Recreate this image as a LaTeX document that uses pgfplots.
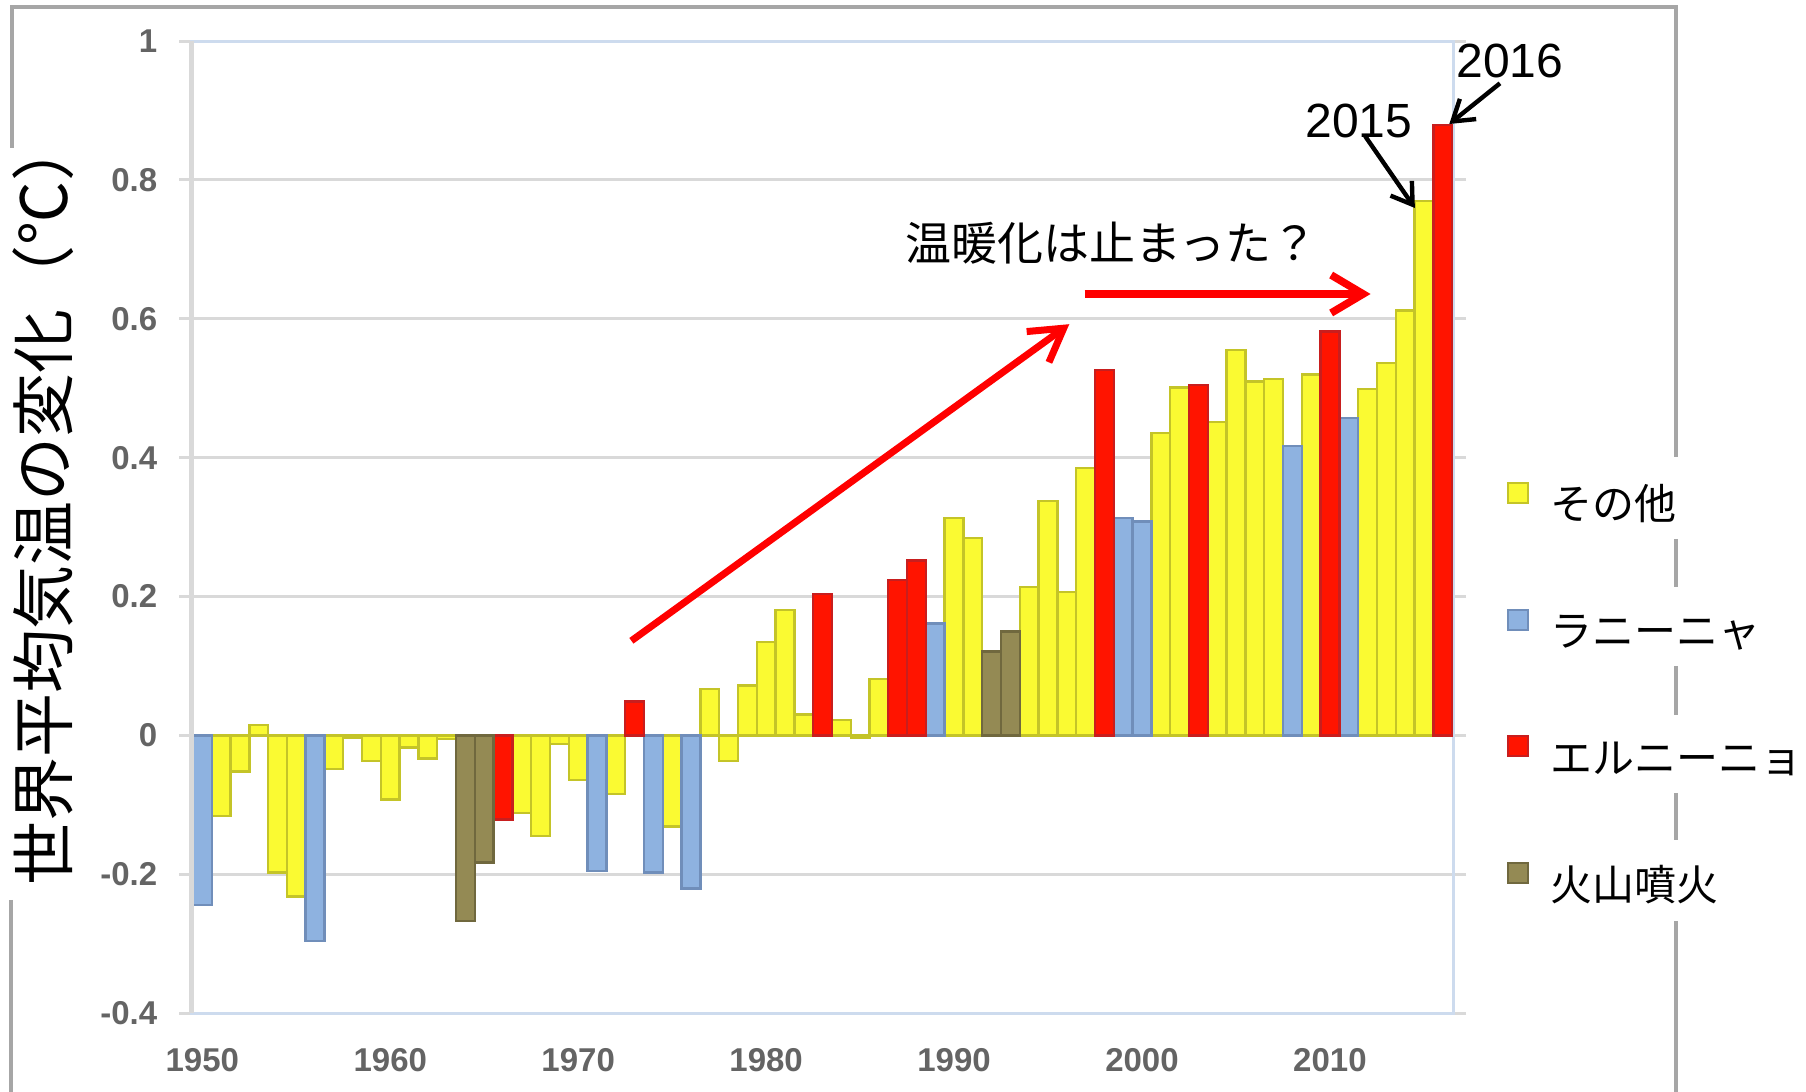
\documentclass[border=0pt]{standalone}
\usepackage{pgfplots}
\usepackage{pgfplotstable}
\pgfplotsset{compat=1.18}
\usetikzlibrary{arrows.meta}
\usepackage{fontspec}
\setmainfont{Liberation Sans}
\newfontfamily\jp{Noto Sans CJK JP}

\definecolor{cyel}{RGB}{250,250,50}
\definecolor{cyeld}{RGB}{196,196,40}
\definecolor{cblu}{RGB}{142,178,224}
\definecolor{cblud}{RGB}{112,142,186}
\definecolor{cred}{RGB}{255,20,0}
\definecolor{credd}{RGB}{200,30,30}
\definecolor{coli}{RGB}{148,138,84}
\definecolor{colid}{RGB}{112,104,62}
\definecolor{cgrid}{RGB}{217,217,217}
\definecolor{cframe}{RGB}{166,166,166}
\definecolor{cbord}{RGB}{205,219,238}
\definecolor{ctick}{RGB}{100,100,100}
\definecolor{arrred}{RGB}{255,0,0}

\pgfplotstableread{
year val
1951 -0.116
1952 -0.052
1953 0.015
1954 -0.197
1955 -0.232
1957 -0.048
1958 -0.003
1959 -0.037
1960 -0.092
1961 -0.017
1962 -0.033
1963 -0.005
1967 -0.112
1968 -0.145
1969 -0.012
1970 -0.064
1972 -0.084
1975 -0.131
1977 0.067
1978 -0.037
1979 0.072
1980 0.135
1981 0.181
1982 0.030
1984 0.022
1985 -0.003
1986 0.081
1990 0.313
1991 0.284
1994 0.214
1995 0.338
1996 0.207
1997 0.385
2001 0.436
2002 0.501
2004 0.451
2005 0.555
2006 0.510
2007 0.513
2009 0.520
2012 0.499
2013 0.536
2014 0.612
2015 0.770
}\tother

\pgfplotstableread{
year val
1950 -0.244
1956 -0.296
1971 -0.195
1974 -0.197
1976 -0.220
1989 0.161
1999 0.313
2000 0.308
2008 0.417
2011 0.457
}\tlanina

\pgfplotstableread{
year val
1966 -0.121
1973 0.049
1983 0.204
1987 0.224
1988 0.252
1998 0.526
2003 0.505
2010 0.582
2016 0.879
}\telnino

\pgfplotstableread{
year val
1964 -0.267
1965 -0.183
1992 0.121
1993 0.150
}\tvolcano

\begin{document}
\begin{tikzpicture}
\useasboundingbox (0,0) rectangle (451.5bp,-273bp);
\begin{axis}[
  at={(48bp,-253.325bp)}, anchor=south west,
  scale only axis, width=315.25bp, height=243.075bp,
  xmin=1949.45, xmax=2016.55, ymin=-0.4, ymax=1,
  ytick={-0.4,-0.2,0,0.2,0.4,0.6,0.8,1},
  xtick={1950,1960,1970,1980,1990,2000,2010},
  ymajorgrids, grid style={cgrid, line width=0.75bp},
  axis line style={cbord, line width=0.75bp},
  tick align=outside, major tick length=3.25bp,
  ytick style={cgrid, line width=0.75bp},
  xtick style={draw=none},
  /pgf/number format/assume math mode=true,
  /pgf/number format/1000 sep={},
  ticklabel style={font=\fontsize{8.25bp}{9bp}\selectfont\bfseries, text=ctick},
  yticklabel style={anchor=east, inner sep=0pt, xshift=-5.25bp},
  xticklabel style={anchor=north, inner sep=0pt, yshift=-5.45bp},
  ybar, bar width=1,
  every axis plot/.append style={bar shift=0pt, line width=0.6bp,
    legend image code/.code={\draw[#1, line width=0.5bp] (0bp,1.7bp) rectangle (5bp,6.7bp);}},
  clip=false,
  legend cell align=left,
  legend style={at={(1.0426,0.5466)}, anchor=north west, draw=none, fill=none,
    inner sep=0pt, outer sep=0pt, row sep=19.25bp, column sep=5.5bp,
    font=\jp\fontsize{10.5bp}{10.5bp}\selectfont,
    nodes={inner sep=0pt, text height=8bp, text depth=3bp}},
]
\addplot[fill=cyel, draw=cyeld] table[x=year, y=val] {\tother};
\addlegendentry{その他}
\addplot[fill=cblu, draw=cblud] table[x=year, y=val] {\tlanina};
\addlegendentry{ラニーニャ}
\addplot[fill=cred, draw=credd] table[x=year, y=val] {\telnino};
\addlegendentry{エルニーニョ}
\addplot[fill=coli, draw=colid] table[x=year, y=val] {\tvolcano};
\addlegendentry{火山噴火}
\draw[cgrid, line width=1.25bp] (rel axis cs:0,0) -- (rel axis cs:0,1);
\end{axis}
\begin{scope}[x=0.25bp, y=-0.25bp]
  \draw[cframe, line width=1bp] (12,148) -- (12,7) -- (1676,7) -- (1676,457);
  \draw[cframe, line width=1bp] (1676,539) -- (1676,587);
  \draw[cframe, line width=1bp] (1676,666) -- (1676,715);
  \draw[cframe, line width=1bp] (1676,793) -- (1676,840);
  \draw[cframe, line width=1bp] (1676,921) -- (1676,1092);
  \draw[cframe, line width=1bp] (11,900) -- (11,1092);
  \node[rotate=90, font=\jp\fontsize{16bp}{16bp}\selectfont, inner sep=0pt] at (43.5,502) {世界平均気温の変化（℃）};
  \draw[arrred, line width=1.75bp, -{Straight Barb[length=8bp,width=9.5bp]}] (631.4,640.8) -- (1069.3,324.2);
  \draw[arrred, line width=1.9bp, -{Straight Barb[length=8bp,width=9.5bp]}] (1084.6,294) -- (1370.6,294);
  \node[font=\jp\fontsize{11.5bp}{11.5bp}\selectfont, anchor=west, inner sep=0pt] at (905,243) {温暖化は止まった？};
  \node[font=\fontsize{12bp}{12bp}\selectfont, inner sep=0pt] at (1359,121) {2015};
  \node[font=\fontsize{12bp}{12bp}\selectfont, inner sep=0pt] at (1510,60.5) {2016};
  \draw[black, line width=1.1bp, -{Straight Barb[length=5bp,width=6.5bp]}] (1365.2,136.2) -- (1414.9,208);
  \draw[black, line width=1.1bp, -{Straight Barb[length=5bp,width=6.5bp]}] (1500,83.3) -- (1449.3,124);
\end{scope}
\end{tikzpicture}
\end{document}
